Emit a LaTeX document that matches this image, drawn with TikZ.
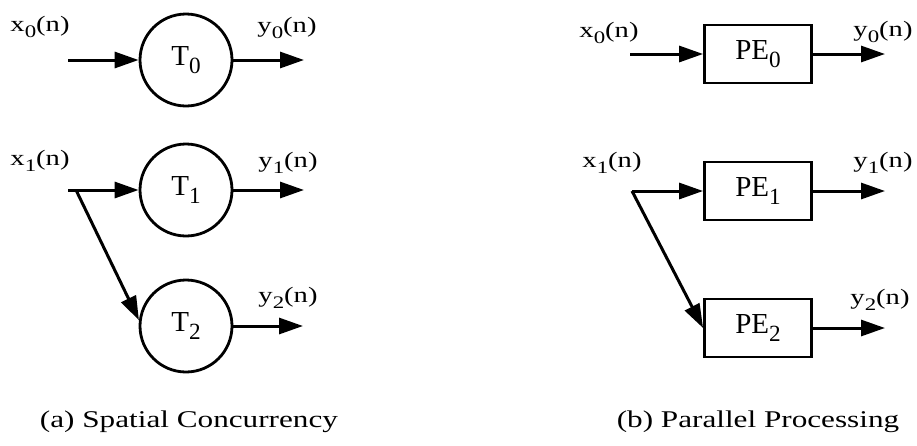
\documentclass[tikz,border=0pt]{standalone}
\usepackage{fontspec}
\setmainfont{Liberation Serif}
\newfontfamily\widefont[FakeStretch=1.3]{Liberation Serif}
\usetikzlibrary{arrows.meta}
\newcommand\dn[1]{\raisebox{-0.3em}{\scalebox{0.8}{#1}}}
\begin{document}
\begin{tikzpicture}[x=1pt,y=-1pt,
  flow/.style={line width=3pt,-{Triangle[length=24pt,width=16pt]}},
  proc/.style={circle,draw,line width=2.8pt,minimum size=92pt,inner sep=0pt,font=\fontsize{29}{29}\selectfont},
  pebox/.style={rectangle,draw,line width=2.8pt,minimum width=107pt,minimum height=58pt,inner sep=0pt,font=\fontsize{29}{29}\selectfont},
  lbl/.style={font=\widefont\fontsize{22}{22}\selectfont,inner sep=0pt},
  captext/.style={font=\widefont\fontsize{24}{24}\selectfont,inner sep=0pt,anchor=base}]
\useasboundingbox (0,0) rectangle (917,445);
% (a) Spatial Concurrency
\node[proc] (T0) at (186,60) {T\dn{0}};
\node[proc] (T1) at (186,190) {T\dn{1}};
\node[proc] (T2) at (186,326) {T\dn{2}};
\coordinate (a0) at (68,60);
\coordinate (o0) at (304,60);
\coordinate (a1) at (68,190);
\coordinate (a1d) at (76,190);
\coordinate (o1) at (304,190);
\coordinate (o2) at (303,326);
\node[lbl] (lx0) at (40,27) {x\dn{0}(n)};
\node[lbl] (ly0) at (287,28) {y\dn{0}(n)};
\node[lbl] (lx1) at (40,161) {x\dn{1}(n)};
\node[lbl] (ly1) at (288,163) {y\dn{1}(n)};
\node[lbl] (ly2) at (288,298) {y\dn{2}(n)};
\draw[flow] (a0) -- (T0);
\draw[flow] (T0) -- (o0);
\draw[flow] (a1) -- (T1);
\draw[flow] (T1) -- (o1);
\draw[flow] (a1d) -- (T2.173);
\draw[flow] (T2) -- (o2);
\node[captext] (capa) at (189,427) {(a) Spatial Concurrency};
% (b) Parallel Processing
\node[pebox] (P0) at (758,54) {PE\dn{0}};
\node[pebox] (P1) at (758,191) {PE\dn{1}};
\node[pebox] (P2) at (758,328) {PE\dn{2}};
\coordinate (c0) at (630,54);
\coordinate (p0) at (885,54);
\coordinate (c1) at (632,191);
\coordinate (p1) at (885,191);
\coordinate (p2) at (885,328);
\node[lbl] (rx0) at (609,33) {x\dn{0}(n)};
\node[lbl] (ry0) at (883,32) {y\dn{0}(n)};
\node[lbl] (rx1) at (612,163) {x\dn{1}(n)};
\node[lbl] (ry1) at (883,163) {y\dn{1}(n)};
\node[lbl] (ry2) at (880,300) {y\dn{2}(n)};
\draw[flow] (c0) -- (P0);
\draw[flow] (P0) -- (p0);
\draw[flow] (c1) -- (P1);
\draw[flow] (P1) -- (p1);
\draw[flow] (c1) -- (P2.west);
\draw[flow] (P2) -- (p2);
\node[captext] (capb) at (758,427) {(b) Parallel Processing};
\end{tikzpicture}
\end{document}
